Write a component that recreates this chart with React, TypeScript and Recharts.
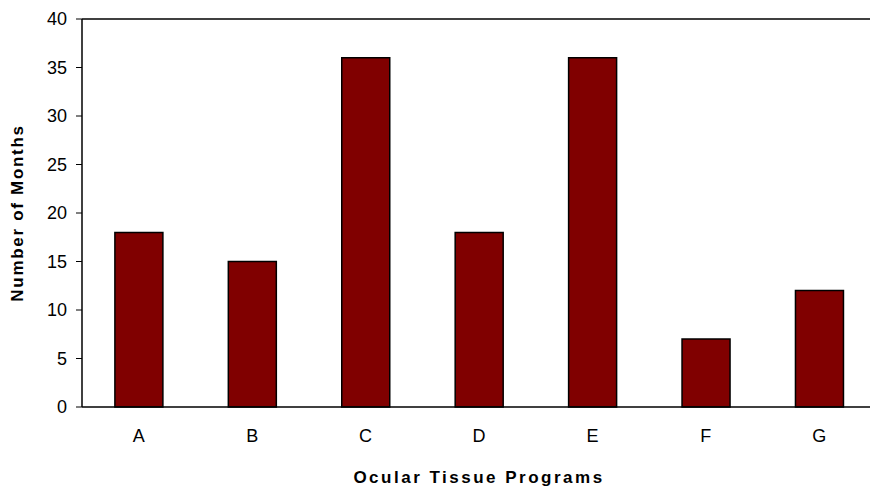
import { BarChart, Bar, XAxis, YAxis, ReferenceLine } from "recharts";

const programs = ["A", "B", "C", "D", "E", "F", "G"];
const months = [18, 15, 36, 18, 36, 7, 12];
const yTicks = [0, 5, 10, 15, 20, 25, 30, 35, 40];
const slotTicks = [0, 1, 2, 3, 4, 5, 6, 7];

const chartData = programs.map((p, i) => ({ program: p, months: months[i] }));

const FONT = '"Liberation Sans", Arial, sans-serif';

const YTitle = ({ viewBox }: any) => {
  const cx = viewBox.x + 17;
  const cy = viewBox.y + viewBox.height / 2;
  return (
    <text
      x={cx}
      y={cy}
      transform={`rotate(-90 ${cx} ${cy})`}
      textAnchor="middle"
      dominantBaseline="central"
      fontFamily={FONT}
      fontSize={17}
      fontWeight="bold"
      letterSpacing={1.7}
      fill="#000"
    >
      Number of Months
    </text>
  );
};

const XTitle = ({ viewBox }: any) => {
  const cx = viewBox.x + viewBox.width / 2;
  return (
    <text
      x={cx}
      y={viewBox.y + 76}
      textAnchor="middle"
      fontFamily={FONT}
      fontSize={17}
      fontWeight="bold"
      letterSpacing={2.5}
      fill="#000"
    >
      Ocular Tissue Programs
    </text>
  );
};

export default function App() {
  return (
    <div
      style={{
        position: "absolute",
        left: 0,
        top: 0,
        width: 870,
        height: 490,
        overflow: "hidden",
        background: "#fff",
      }}
    >
      <BarChart
        width={880}
        height={490}
        data={chartData}
        margin={{ top: 19, right: 4, left: 0, bottom: 0 }}
        barCategoryGap="29%"
      >
        <XAxis
          xAxisId="slots"
          type="number"
          domain={[0, 7]}
          ticks={slotTicks}
          tick={false}
          tickSize={6}
          axisLine={false}
          tickLine={{ stroke: "#000" }}
          height={0}
        />
        <XAxis
          dataKey="program"
          tickLine={false}
          tickSize={0}
          tickMargin={22}
          axisLine={{ stroke: "#000", strokeWidth: 1.5 }}
          tick={{ fill: "#000", fontSize: 18, fontFamily: FONT }}
          height={83}
          label={<XTitle />}
        />
        <YAxis
          domain={[0, 40]}
          ticks={yTicks}
          width={82}
          tickSize={6}
          tickMargin={9}
          axisLine={{ stroke: "#000", strokeWidth: 1.5 }}
          tickLine={{ stroke: "#000" }}
          tick={{ fill: "#000", fontSize: 18, fontFamily: FONT }}
          label={<YTitle />}
        />
        <ReferenceLine y={40} stroke="#000" strokeWidth={1.5} />
        <Bar
          dataKey="months"
          fill="#800000"
          stroke="#000"
          strokeWidth={1.5}
          isAnimationActive={false}
        />
      </BarChart>
    </div>
  );
}
